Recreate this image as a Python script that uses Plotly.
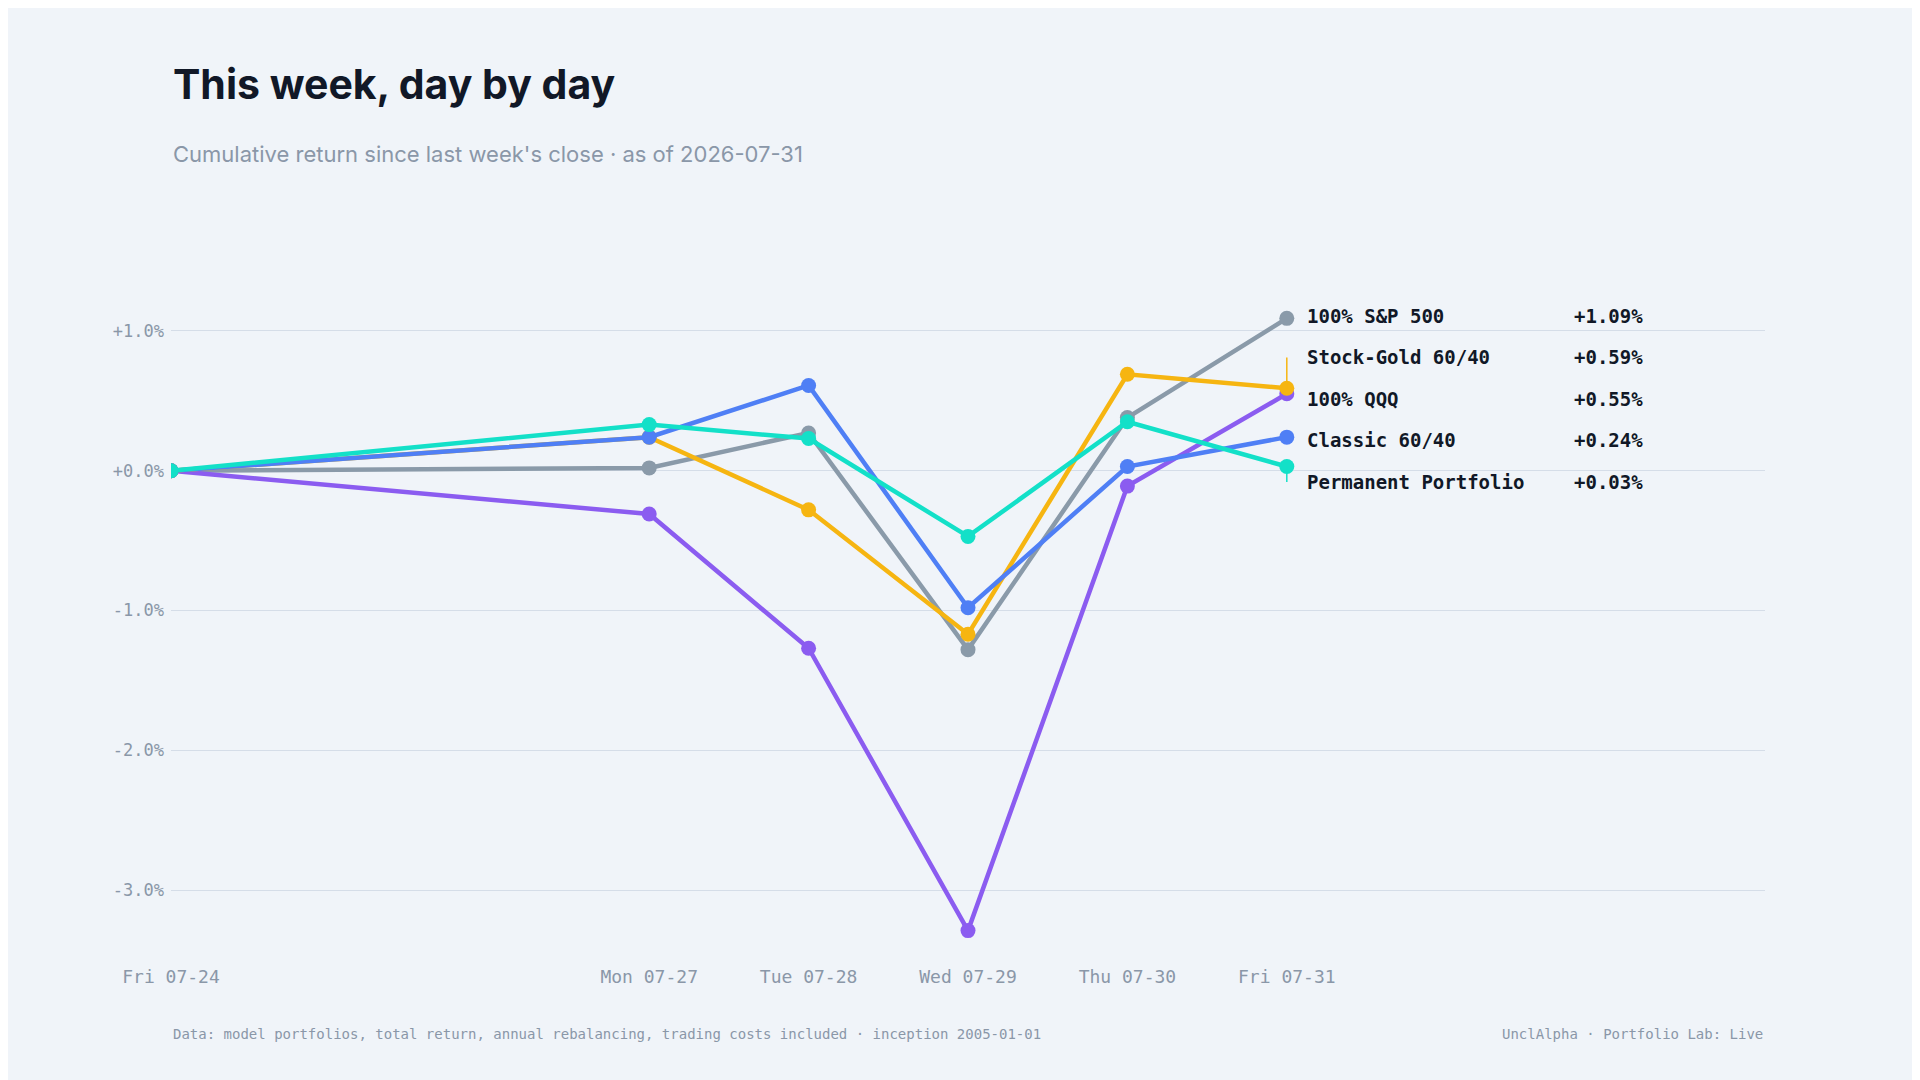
import plotly.graph_objects as go

dates = ["2026-07-24", "2026-07-27", "2026-07-28", "2026-07-29", "2026-07-30", "2026-07-31"]
tick_text = ["Fri 07-24", "Mon 07-27", "Tue 07-28", "Wed 07-29", "Thu 07-30", "Fri 07-31"]

sp500 = [0.0, 0.02, 0.27, -1.28, 0.38, 1.09]
qqq = [0.0, -0.31, -1.27, -3.29, -0.11, 0.55]
stock_gold = [0.0, 0.24, -0.28, -1.17, 0.69, 0.59]
classic = [0.0, 0.24, 0.61, -0.98, 0.03, 0.24]
permanent = [0.0, 0.33, 0.23, -0.47, 0.35, 0.03]

series = [
    ("100% S&P 500", sp500, "#8a9aa9"),
    ("Stock-Gold 60/40", stock_gold, "#f6b511"),
    ("100% QQQ", qqq, "#8b5cf0"),
    ("Classic 60/40", classic, "#4f7ff5"),
    ("Permanent Portfolio", permanent, "#13e0c8"),
]
label_y = [1.11, 0.81, 0.51, 0.22, -0.08]
draw_order = [0, 2, 1, 3, 4]

MONO = "DejaVu Sans Mono"
fig = go.Figure()

for i in draw_order:
    name, vals, col = series[i]
    fig.add_trace(go.Scatter(
        x=dates, y=vals, mode="lines+markers", name=name,
        line=dict(color=col, width=4.5), marker=dict(size=15, color=col),
        showlegend=False))

for (name, vals, col), ly in zip(series, label_y):
    end = vals[-1]
    if abs(end - ly) > 0.06:
        fig.add_shape(type="line", x0=dates[-1], x1=dates[-1], y0=end, y1=ly,
                      line=dict(color=col, width=1.5))
    fig.add_annotation(x=dates[-1], y=ly, text=f"<b>{name}</b>", showarrow=False,
                       xanchor="left", xshift=18, font=dict(family=MONO, size=19, color="#111827"))
    fig.add_annotation(x=dates[-1], y=ly, text=f"<b>{end:+.2f}%</b>", showarrow=False,
                       xanchor="right", xshift=358, font=dict(family=MONO, size=19, color="#111827"))

fig.add_annotation(xref="paper", yref="paper", x=0, y=1, yshift=164, xanchor="left", yanchor="bottom",
                   text="<b>This week, day by day</b>", showarrow=False,
                   font=dict(family="Inter", size=41, color="#111827"))
fig.add_annotation(xref="paper", yref="paper", x=0, y=1, yshift=106, xanchor="left", yanchor="bottom",
                   text="Cumulative return since last week's close · as of 2026-07-31", showarrow=False,
                   font=dict(family="Inter", size=22, color="#8a97a8"))
fig.add_annotation(xref="paper", yref="paper", x=0, y=0, yshift=-88, xanchor="left", yanchor="middle",
                   text="Data: model portfolios, total return, annual rebalancing, trading costs included · inception 2005-01-01",
                   showarrow=False, font=dict(family=MONO, size=14, color="#8a97a8"))
fig.add_annotation(xref="paper", yref="paper", x=1, y=0, yshift=-88, xanchor="right", yanchor="middle",
                   text="UnclAlpha · Portfolio Lab: Live", showarrow=False,
                   font=dict(family=MONO, size=14, color="#8a97a8"))

fig.update_layout(
    width=1920, height=1080, paper_bgcolor="#f0f4f9", plot_bgcolor="#f0f4f9",
    margin=dict(l=163, r=163, t=267, b=142),
    xaxis=dict(type="date", range=["2026-07-24", "2026-08-03"], tickvals=dates, ticktext=tick_text,
               showgrid=False, zeroline=False, showline=False, ticks="",
               ticklabelstandoff=18, tickfont=dict(family=MONO, size=18, color="#8a97a8")),
    yaxis=dict(range=[-3.4, 1.4], tickvals=[1, 0, -1, -2, -3],
               ticktext=["+1.0%", "+0.0%", "-1.0%", "-2.0%", "-3.0%"],
               showgrid=True, gridcolor="#d5dde8", gridwidth=1.2, zeroline=False, showline=False,
               ticklabelstandoff=6, tickfont=dict(family=MONO, size=17, color="#8a97a8")),
)

fig.write_html("out.html")
